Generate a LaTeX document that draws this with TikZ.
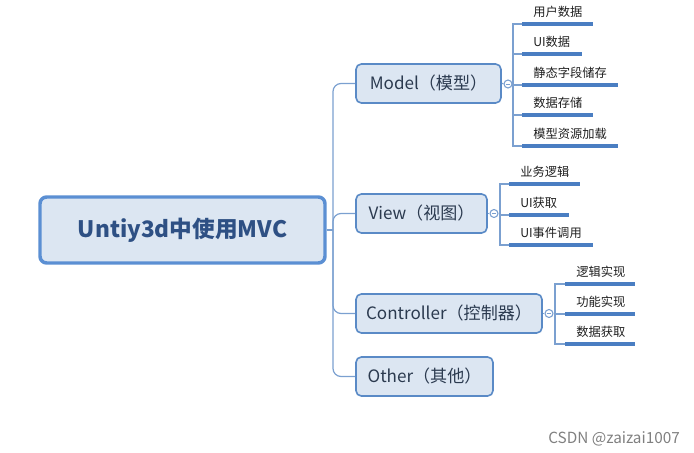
\documentclass[tikz,border=0pt]{standalone}
\usepackage{fontspec}
\newfontfamily\cjk{Noto Sans CJK SC}
\definecolor{boxfill}{HTML}{DCE6F2}
\definecolor{boxline}{HTML}{5A8AC6}
\definecolor{mainline}{HTML}{5B8FD3}
\definecolor{maintext}{HTML}{2E5084}
\definecolor{brtext}{HTML}{2B3A4F}
\definecolor{connc}{HTML}{7BA0D0}
\definecolor{barc}{HTML}{4A7EC2}
\tikzset{
  mainbox/.style={draw=mainline, line width=2.6pt, fill=boxfill, rounded corners=5pt,
    minimum width=213.75pt, minimum height=49.5pt, inner sep=0pt,
    font=\cjk\bfseries\fontsize{17pt}{20pt}\selectfont, text=maintext},
  brbox/.style={draw=boxline, line width=1.2pt, fill=boxfill, rounded corners=4pt,
    minimum height=29.25pt, inner sep=0pt,
    font=\cjk\fontsize{12.8pt}{15pt}\selectfont, text=brtext},
  conn/.style={draw=connc, line width=0.9pt},
  barline/.style={draw=barc, line width=2.3pt},
  collapse/.style={circle, draw=connc, fill=white, line width=0.8pt, minimum size=6pt, inner sep=0pt,
    path picture={\draw[connc, line width=0.6pt] ([xshift=-1.6pt]path picture bounding box.center) -- ([xshift=1.6pt]path picture bounding box.center);}},
  leaf/.style={anchor=base west, inner sep=0pt, font=\cjk\fontsize{9.2pt}{11pt}\selectfont, text=black!88},
  wm/.style={anchor=base west, inner sep=0pt, font=\cjk\fontsize{11.5pt}{13pt}\selectfont, text=black!50}
}
\begin{document}
\begin{tikzpicture}[x=0.75pt,y=-0.75pt]
\useasboundingbox (0,0) rectangle (694,453);
% main
\node[mainbox] (main) at (182.5,230) {Untiy3d中使用MVC};
\coordinate (hub) at (333,230);
% branches
\node[brbox, minimum width=108.75pt] (model) at (428.5,83.5) {Model（模型）};
\node[brbox, minimum width=98.25pt] (view) at (421.5,213.5) {View（视图）};
\node[brbox, minimum width=139.5pt] (ctrl) at (449,313.5) {Controller（控制器）};
\node[brbox, minimum width=102.75pt] (other) at (424.5,376.5) {Other（其他）};
\draw[conn] (main.east) -- (hub);
\draw[conn, rounded corners=6] (hub) |- (model.west);
\draw[conn, rounded corners=6] (hub) |- (view.west);
\draw[conn, rounded corners=6] (hub) |- (ctrl.west);
\draw[conn, rounded corners=6] (hub) |- (other.west);
% collapse markers
\node[collapse] (mc) at (508,84) {};
\node[collapse] (vc) at (494,213.5) {};
\node[collapse] (cc) at (549,313.5) {};
\draw[conn] (model.east) -- (mc);
\draw[conn] (view.east) -- (vc);
\draw[conn] (ctrl.east) -- (cc);
% model leaves
\coordinate (mx) at (513,84);
\coordinate (mb1) at (522,24);
\coordinate (mb2) at (522,54);
\coordinate (mb3) at (522,85);
\coordinate (mb4) at (522,115);
\coordinate (mb5) at (522,146);
\draw[conn] (mc) -- (mx);
\draw[conn] (mx) |- (mb1);
\draw[conn] (mx) |- (mb2);
\draw[conn] (mx) |- (mb3);
\draw[conn] (mx) |- (mb4);
\draw[conn] (mx) |- (mb5);
\draw[barline] (mb1) -- ++(71,0);
\draw[barline] (mb2) -- ++(60,0);
\draw[barline] (mb3) -- ++(96,0);
\draw[barline] (mb4) -- ++(71,0);
\draw[barline] (mb5) -- ++(96,0);
\node[leaf] (m1) at ([shift={(11,-7.5)}]mb1) {用户数据};
\node[leaf] (m2) at ([shift={(11,-7.5)}]mb2) {UI数据};
\node[leaf] (m3) at ([shift={(11,-7.5)}]mb3) {静态字段储存};
\node[leaf] (m4) at ([shift={(11,-7.5)}]mb4) {数据存储};
\node[leaf] (m5) at ([shift={(11,-7.5)}]mb5) {模型资源加载};
% view leaves
\coordinate (vx) at (500,213.5);
\coordinate (vb1) at (509,184);
\coordinate (vb2) at (509,215);
\coordinate (vb3) at (509,245);
\draw[conn] (vc) -- (vx);
\draw[conn] (vx) |- (vb1);
\draw[conn] (vx) |- (vb2);
\draw[conn] (vx) |- (vb3);
\draw[barline] (vb1) -- ++(71,0);
\draw[barline] (vb2) -- ++(60,0);
\draw[barline] (vb3) -- ++(84,0);
\node[leaf] (v1) at ([shift={(11,-7.5)}]vb1) {业务逻辑};
\node[leaf] (v2) at ([shift={(11,-7.5)}]vb2) {UI获取};
\node[leaf] (v3) at ([shift={(11,-7.5)}]vb3) {UI事件调用};
% controller leaves
\coordinate (cx) at (555,313.5);
\coordinate (cb1) at (565,284);
\coordinate (cb2) at (565,314);
\coordinate (cb3) at (565,344);
\draw[conn] (cc) -- (cx);
\draw[conn] (cx) |- (cb1);
\draw[conn] (cx) |- (cb2);
\draw[conn] (cx) |- (cb3);
\draw[barline] (cb1) -- ++(70,0);
\draw[barline] (cb2) -- ++(70,0);
\draw[barline] (cb3) -- ++(70,0);
\node[leaf] (c1) at ([shift={(11,-7.5)}]cb1) {逻辑实现};
\node[leaf] (c2) at ([shift={(11,-7.5)}]cb2) {功能实现};
\node[leaf] (c3) at ([shift={(11,-7.5)}]cb3) {数据获取};
% watermark
\node[wm] (wmark) at (548,443) {CSDN @zaizai1007};
\end{tikzpicture}
\end{document}
